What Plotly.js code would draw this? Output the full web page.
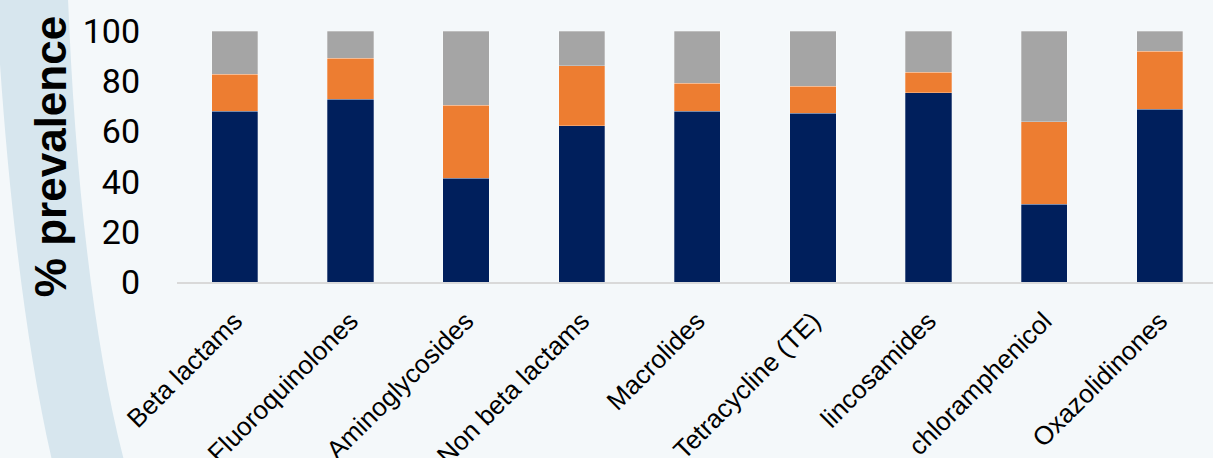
<!DOCTYPE html>
<html>
<head>
<meta charset="utf-8">
<script src="https://cdn.plot.ly/plotly-3.0.1.min.js"></script>
<style>
html,body{margin:0;padding:0;background:#f4f8fa;}
#chart{width:1213px;height:458px;}
</style>
</head>
<body>
<div id="chart"></div>
<script>
var categories = ["Beta lactams","Fluoroquinolones","Aminoglycosides","Non beta lactams","Macrolides","Tetracycline (TE)","lincosamides","chloramphenicol","Oxazolidinones"];
var resistant    = [68.1, 72.9, 41.4, 62.3, 68.1, 67.3, 75.4, 31.0, 68.9];
var intermediate = [14.6, 16.3, 29.1, 23.8, 11.1, 10.7,  8.2, 32.9, 23.1];
var susceptible  = [17.3, 10.8, 29.5, 13.9, 20.8, 22.0, 16.4, 36.1,  8.0];
var seriesNames  = ["Resistant","Intermediate","Susceptible"];
var seriesColors = ["#001f5c","#ed7d31","#a5a5a5"];
var yTicks = [0,20,40,60,80,100];

var W = 1213, H = 458;
var L = 177, R = 0, T = 30.5, B = 176.3;
var pw = W - L - R, ph = H - T - B;
function px(x){ return ((x - L)/pw).toFixed(4); }
function py(y){ return ((H - B - y)/ph).toFixed(4); }

var arcPath = "M " + px(-4) + " " + py(-2) +
  " L " + px(68) + " " + py(-2) +
  " C " + px(74) + " " + py(150) + ", " + px(90) + " " + py(330) + ", " + px(124) + " " + py(460) +
  " L " + px(52) + " " + py(460) +
  " C " + px(22) + " " + py(330) + ", " + px(4) + " " + py(150) + ", " + px(-4) + " " + py(-2) + " Z";

var data = [resistant, intermediate, susceptible].map(function(vals, i){
  return {
    type: "bar",
    x: categories,
    y: vals,
    name: seriesNames[i],
    marker: {color: seriesColors[i], line: {color: "rgba(255,255,255,0.35)", width: 0.8}},
    hoverinfo: "x+y+name"
  };
});

var layout = {
  width: W, height: H,
  margin: {l: L, r: R, t: T, b: B, pad: 0},
  barmode: "stack",
  bargap: 0.6,
  showlegend: false,
  paper_bgcolor: "#f4f8fa",
  plot_bgcolor: "rgba(0,0,0,0)",
  font: {family: "Roboto, 'Liberation Sans', sans-serif", color: "#000"},
  xaxis: {
    range: [-0.5, 8.46],
    tickangle: -45,
    tickfont: {size: 26, color: "#000", family: "Liberation Sans, Arial, sans-serif"},
    showline: true, linecolor: "#d9d9d9", linewidth: 1.5,
    showgrid: false, ticks: "", zeroline: false,
    ticklabelstandoff: 12
  },
  yaxis: {
    range: [0, 100],
    tickvals: yTicks,
    ticktext: yTicks.map(String),
    tickfont: {size: 34, color: "#000"},
    showgrid: false, zeroline: false, showline: false,
    ticks: "", ticklabelstandoff: 36,
    title: {text: "<b>% prevalence</b>", font: {size: 44, color: "#000", family: "Liberation Sans, Arial, sans-serif"}, standoff: 2}
  },
  shapes: [{
    type: "path", xref: "paper", yref: "paper", layer: "below",
    path: arcPath, fillcolor: "#d7e6ee", line: {width: 0}
  }]
};

Plotly.newPlot("chart", data, layout, {displayModeBar: false, staticPlot: true});
</script>
</body>
</html>
